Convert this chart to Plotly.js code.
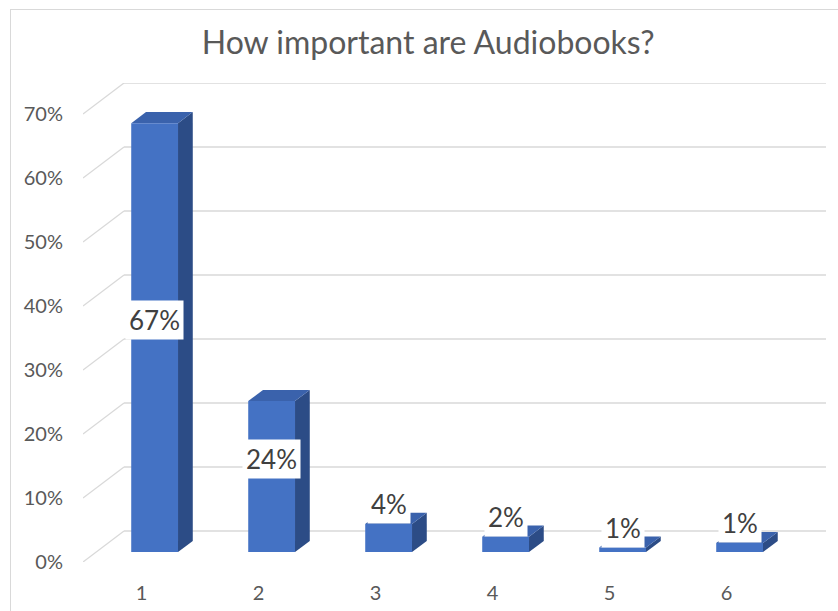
<!DOCTYPE html>
<html>
<head>
<meta charset="utf-8">
<script src="https://cdn.plot.ly/plotly-3.0.1.min.js"></script>
<style>
  html, body { margin: 0; padding: 0; background: #fff; }
  #wrap { position: relative; width: 838px; height: 611px; }
  #chart { position: absolute; left: 0; top: 0; width: 838px; height: 611px; }
  #frame { position: absolute; left: 10px; top: 9px; width: 840px; height: 620px;
           border-left: 1px solid #D9D9D9; border-top: 1px solid #D9D9D9; pointer-events: none; }
</style>
</head>
<body>
<div id="wrap">
  <div id="chart"></div>
  <div id="frame"></div>
</div>
<script>
// ---- data ----
const categories = ["1", "2", "3", "4", "5", "6"];
const values = [0.67, 0.236, 0.044, 0.024, 0.007, 0.014];
const yTickVals = [0, 0.1, 0.2, 0.3, 0.4, 0.5, 0.6, 0.7];
const yTickText = ["0%", "10%", "20%", "30%", "40%", "50%", "60%", "70%"];
const titleText = "How important are Audiobooks?";

// ---- 3D projection helpers (pixels -> data units) ----
const PX_PER_X = 117;       // pixels per category
const PX_PER_Y = 640;       // pixels per unit of value
const DEPTH_PX = [41, 31];  // full depth offset in pixels (right, up)
const Dx = DEPTH_PX[0] / PX_PER_X;
const Dy = DEPTH_PX[1] / PX_PER_Y;
const f1 = 0.32, f2 = 0.68; // bar depth fraction (front, back)
const barW = 0.4;
const xMin = 0.5, xMax = 6.5 + Dx;
const yMax = 0.7 + Dy;

const FRONT = '#4472C4', TOP = '#3A62AC', SIDE = '#2C4C86', GRID = '#D9D9D9';
const FONT = 'Lato, "Open Sans", sans-serif';

const xs = categories.map((c, i) => i + 1);
const shapes = [];

// gridlines on back wall + diagonal on the left wall
yTickVals.forEach(v => {
  shapes.push({type: 'line', layer: 'below', xref: 'x', yref: 'y',
    x0: xMin, y0: v, x1: xMin + Dx, y1: v + Dy, line: {color: GRID, width: 1.3}});
  shapes.push({type: 'line', layer: 'below', xref: 'x', yref: 'y',
    x0: xMin + Dx, y0: v + Dy, x1: xMax, y1: v + Dy, line: {color: GRID, width: 1.3}});
});

const base = f1 * Dy;
const dd = f2 - f1;
const annotations = [];
xs.forEach((x, i) => {
  const v = values[i];
  const xl = x + f1 * Dx - barW / 2, xr = x + f1 * Dx + barW / 2;
  const yb = base, yt = base + v;
  const ox = dd * Dx, oy = dd * Dy;
  // side face
  shapes.push({type: 'path', layer: 'below', xref: 'x', yref: 'y',
    path: `M ${xr} ${yb} L ${xr} ${yt} L ${xr + ox} ${yt + oy} L ${xr + ox} ${yb + oy} Z`,
    fillcolor: SIDE, line: {width: 0}});
  // top face
  shapes.push({type: 'path', layer: 'below', xref: 'x', yref: 'y',
    path: `M ${xl} ${yt} L ${xr} ${yt} L ${xr + ox} ${yt + oy} L ${xl + ox} ${yt + oy} Z`,
    fillcolor: TOP, line: {width: 0}});
  const inside = v * PX_PER_Y > 60;
  annotations.push({
    x: x + f1 * Dx, y: inside ? yb + v / 2 : yt, xref: 'x', yref: 'y',
    text: Math.round(v * 100) + '%', showarrow: false,
    yanchor: 'middle', xanchor: 'center', yshift: inside ? 18 : 20,
    bgcolor: '#FFFFFF', borderpad: 3,
    font: {family: FONT, size: 26, color: '#404040'}
  });
});

const trace = {
  type: 'bar',
  x: xs.map(x => x + f1 * Dx),
  y: values,
  base: values.map(() => base),
  width: barW,
  marker: {color: FRONT, line: {width: 0}},
  hoverinfo: 'skip',
  showlegend: false
};

const layout = {
  width: 838, height: 611,
  margin: {l: 83, r: 12, t: 83, b: 49},
  paper_bgcolor: '#FFFFFF', plot_bgcolor: 'rgba(0,0,0,0)',
  title: {text: titleText, x: 0.511, xanchor: 'center', y: 0.93, yanchor: 'middle',
    font: {family: FONT, size: 32, color: '#595959'}},
  xaxis: {range: [xMin, xMax], tickvals: xs, ticktext: categories,
    showgrid: false, zeroline: false, showline: false,
    ticks: 'outside', ticklen: 13, tickcolor: 'rgba(0,0,0,0)',
    tickfont: {family: FONT, size: 20, color: '#595959'},
    fixedrange: true},
  yaxis: {range: [0, yMax], tickvals: yTickVals, ticktext: yTickText,
    showgrid: false, zeroline: false, showline: false,
    ticks: 'outside', ticklen: 15, tickcolor: 'rgba(0,0,0,0)',
    tickfont: {family: FONT, size: 20, color: '#595959'},
    fixedrange: true},
  shapes: shapes,
  annotations: annotations,
  showlegend: false
};

Plotly.newPlot('chart', [trace], layout, {displayModeBar: false, staticPlot: true});
</script>
</body>
</html>
